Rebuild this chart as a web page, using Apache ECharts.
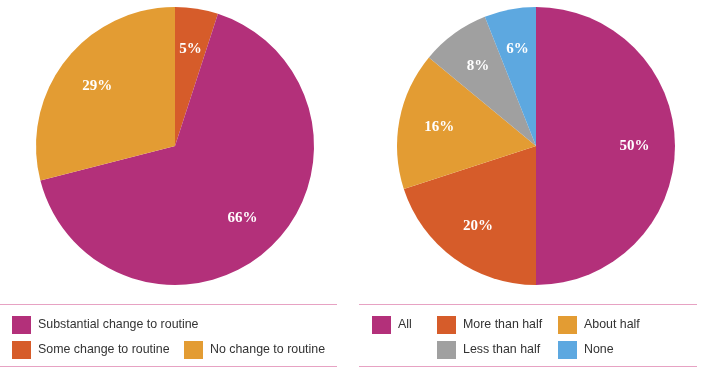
<!DOCTYPE html>
<html>
<head>
<meta charset="utf-8">
<script src="https://cdn.jsdelivr.net/npm/echarts@6/dist/echarts.min.js"></script>
<style>
  html, body { margin: 0; padding: 0; background: #fff; }
  #chart { width: 705px; height: 374px; }
</style>
</head>
<body>
<div id="chart"></div>
<script>
// left pie: how routines changed
const routineNames = ['Some change to routine', 'Substantial change to routine', 'No change to routine'];
const routineValues = [5, 66, 29];
const routineColors = ['#D65C2A', '#B3307A', '#E39C33'];
const routineLegendOrder = ['Substantial change to routine', 'Some change to routine', 'No change to routine'];

// right pie: share of time
const shareNames = ['All', 'More than half', 'About half', 'Less than half', 'None'];
const shareValues = [50, 20, 16, 8, 6];
const shareColors = ['#B3307A', '#D65C2A', '#E39C33', '#A0A0A0', '#5DA8E0'];

const toData = (names, values, colors) =>
  names.map((name, i) => ({ name, value: values[i], itemStyle: { color: colors[i] } }));

const pctLabel = {
  show: true,
  position: 'inside',
  color: '#fff',
  fontFamily: '"Liberation Serif", "DejaVu Serif", serif',
  fontWeight: 'bold',
  fontSize: 15,
  formatter: (p) => p.value + '%',
};

function pieSeries(center, data) {
  return [
    {
      type: 'pie',
      center,
      radius: [0, 139],
      startAngle: 90,
      clockwise: true,
      label: { show: false },
      labelLine: { show: false },
      emphasis: { disabled: true },
      data,
    },
    // transparent ring, only used to sit the labels further out
    {
      type: 'pie',
      center,
      radius: [52, 139],
      startAngle: 90,
      clockwise: true,
      silent: true,
      label: pctLabel,
      labelLine: { show: false },
      itemStyle: { color: 'rgba(0,0,0,0)' },
      emphasis: { disabled: true },
      data: data.map((d) => ({ name: d.name, value: d.value })),
    },
  ];
}

// one legend per item so each can sit where the reference puts it
const legendSpots = [
  [routineLegendOrder[0], 12, 316],
  [routineLegendOrder[1], 12, 341],
  [routineLegendOrder[2], 184, 341],
  ['All', 372, 316],
  ['More than half', 437, 316],
  ['About half', 558, 316],
  ['Less than half', 437, 341],
  ['None', 558, 341],
];

const legends = legendSpots.map(([name, left, top]) => ({
  data: [name],
  left,
  top,
  padding: 0,
  itemWidth: 19,
  itemHeight: 18,
  itemGap: 0,
  icon: 'rect',
  selectedMode: false,
  textStyle: {
    color: '#333',
    fontSize: 12.4,
    fontFamily: '"Liberation Sans", Arial, sans-serif',
    padding: [0, 0, 0, 2],
  },
}));

const lineStyle = { stroke: '#E7A2C3', lineWidth: 1 };

const chart = echarts.init(document.getElementById('chart'), null, { renderer: 'canvas' });
chart.setOption({
  animation: false,
  legend: legends,
  series: [
    ...pieSeries([175, 146], toData(routineNames, routineValues, routineColors)),
    ...pieSeries([536, 146], toData(shareNames, shareValues, shareColors)),
  ],
  graphic: [
    { type: 'line', shape: { x1: 0, y1: 304.5, x2: 337, y2: 304.5 }, style: lineStyle },
    { type: 'line', shape: { x1: 0, y1: 366.5, x2: 337, y2: 366.5 }, style: lineStyle },
    { type: 'line', shape: { x1: 359, y1: 304.5, x2: 697, y2: 304.5 }, style: lineStyle },
    { type: 'line', shape: { x1: 359, y1: 366.5, x2: 697, y2: 366.5 }, style: lineStyle },
  ],
});
</script>
</body>
</html>
